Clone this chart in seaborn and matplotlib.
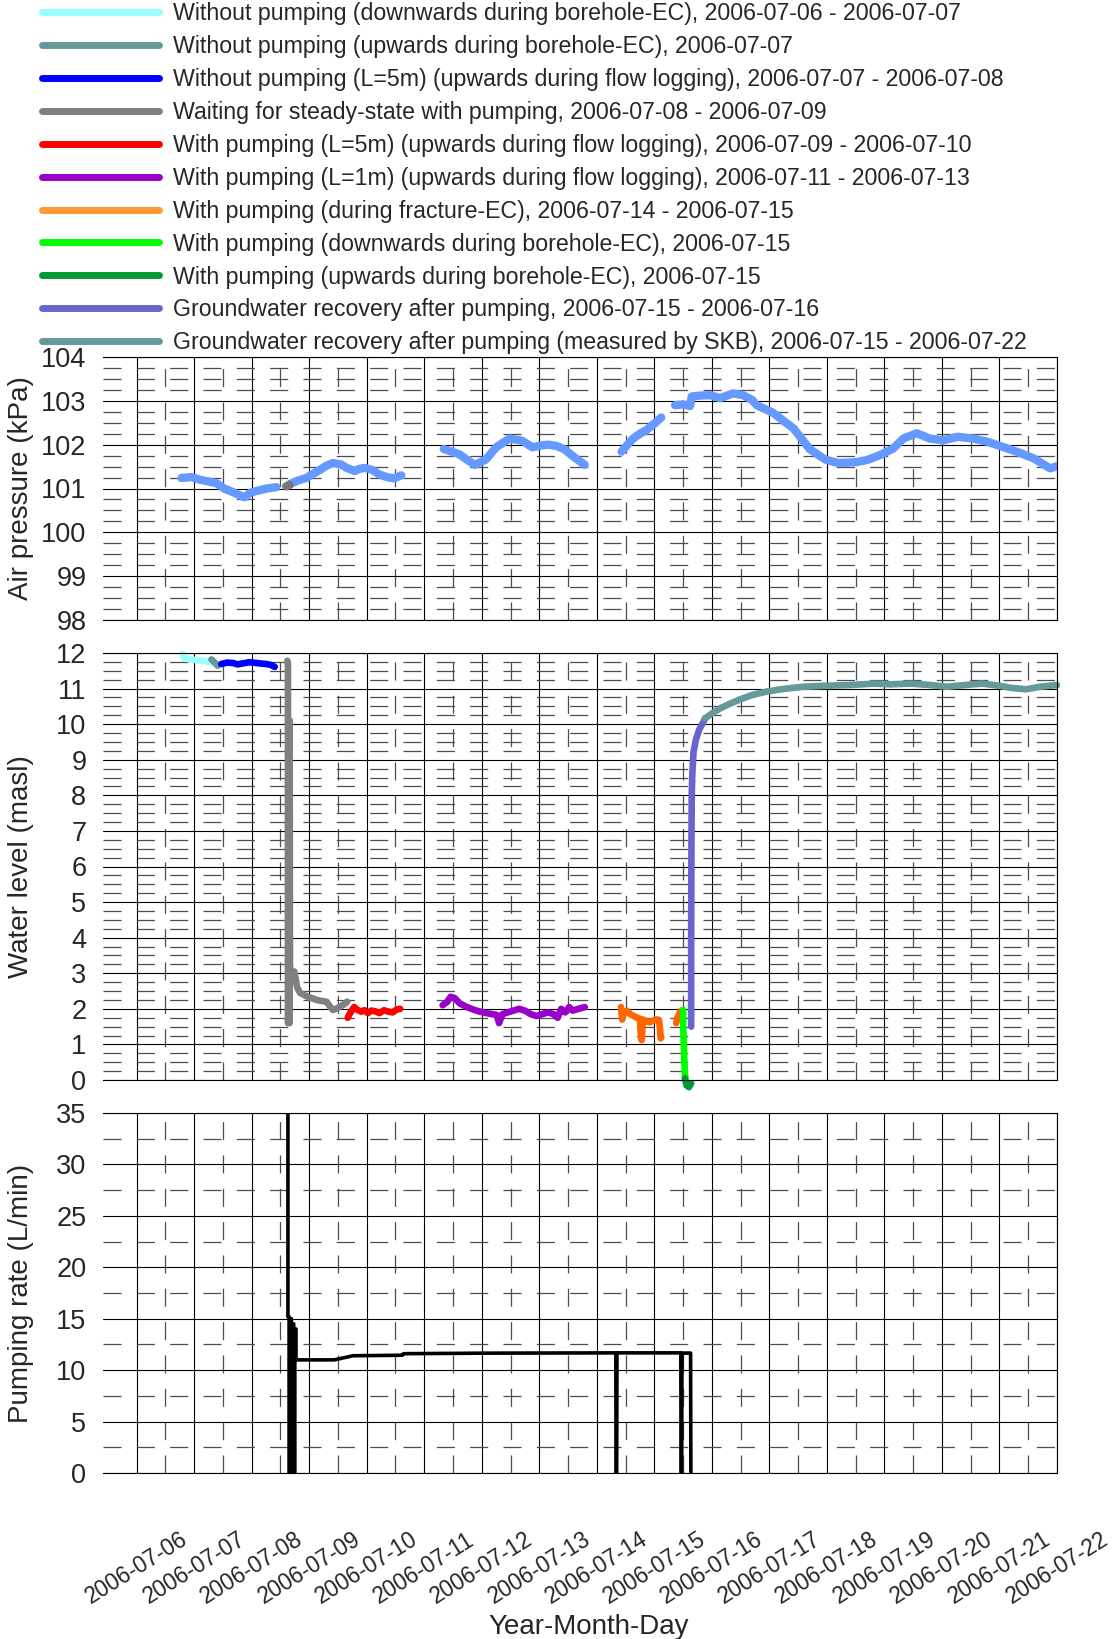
import pandas as pd
import matplotlib
matplotlib.use('Agg')
import matplotlib.pyplot as plt
import matplotlib.dates as mdates
from matplotlib.lines import Line2D
from matplotlib.ticker import MultipleLocator, FixedLocator
import seaborn as sns

# all times are days after 2006-07-06 00:00
START = pd.Timestamp('2006-07-06')

# --- air pressure (kPa) ---
air1_day = [0.78, 0.95, 1.10, 1.25, 1.39, 1.52, 1.67, 1.80, 1.88, 1.97, 2.10, 2.26, 2.43]
air1_kpa = [101.24, 101.26, 101.20, 101.16, 101.12, 101.00, 100.92, 100.84, 100.80, 100.90, 100.95, 101.00, 101.03]
air2_day = [2.66, 2.80, 2.95, 3.05, 3.18, 3.30, 3.41, 3.55, 3.65, 3.79, 3.88, 3.97, 4.10, 4.22, 4.35, 4.48, 4.60]
air2_kpa = [101.10, 101.18, 101.24, 101.32, 101.42, 101.52, 101.58, 101.55, 101.47, 101.40, 101.45, 101.47, 101.42, 101.32, 101.26, 101.23, 101.30]
air3_day = [5.34, 5.48, 5.61, 5.75, 5.88, 6.07, 6.25, 6.48, 6.70, 6.88, 7.02, 7.16, 7.30, 7.43, 7.60, 7.79]
air3_kpa = [101.90, 101.84, 101.78, 101.65, 101.54, 101.66, 101.94, 102.14, 102.09, 101.94, 101.98, 102.00, 101.97, 101.90, 101.72, 101.54]
air4_day = [8.43, 8.52, 8.63, 8.75, 8.86, 9.00, 9.12]
air4_kpa = [101.84, 101.98, 102.14, 102.25, 102.33, 102.48, 102.62]
air5_day = [9.36, 9.50, 9.62, 9.65, 9.80, 9.97, 10.14, 10.37, 10.54, 10.70, 10.78, 11.06, 11.42, 11.70, 11.97, 12.20, 12.50,
            12.70, 12.92, 13.15, 13.33, 13.56, 13.79, 14.02, 14.28, 14.54, 14.78, 15.01, 15.30, 15.59, 15.88, 16.00]
air5_kpa = [102.90, 102.92, 102.88, 103.10, 103.12, 103.13, 103.06, 103.17, 103.13, 103.02, 102.90, 102.73, 102.37, 101.90, 101.66, 101.58, 101.60,
            101.65, 101.76, 101.91, 102.14, 102.26, 102.14, 102.10, 102.18, 102.14, 102.07, 101.97, 101.84, 101.69, 101.46, 101.51]
air_wait_day = [2.60, 2.66]
air_wait_kpa = [101.05, 101.08]

# --- water level (masl) ---
cyan_day = [0.80, 0.83, 0.90, 1.05, 1.20, 1.29]
cyan_lvl = [11.97, 11.85, 11.83, 11.80, 11.77, 11.74]
teal_day = [1.30, 1.35, 1.41]
teal_lvl = [11.82, 11.74, 11.64]
blue_day = [1.47, 1.57, 1.67, 1.76, 1.85, 1.96, 2.08, 2.18, 2.26, 2.34, 2.40]
blue_lvl = [11.69, 11.73, 11.72, 11.68, 11.71, 11.74, 11.72, 11.70, 11.69, 11.66, 11.61]
gray_day = [2.62, 2.63, 2.63, 2.66, 2.66, 2.665, 2.70, 2.74, 2.79, 2.84, 2.90, 2.96, 3.05, 3.13, 3.22,
            3.30, 3.37, 3.41, 3.47, 3.53, 3.60, 3.66]
gray_lvl = [11.78, 11.70, 1.60, 1.60, 10.10, 3.20, 2.90, 3.05, 2.60, 2.45, 2.40, 2.35, 2.30, 2.25, 2.22,
            2.20, 2.05, 1.97, 2.00, 2.06, 2.12, 2.20]
red_day = [3.67, 3.70, 3.74, 3.78, 3.83, 3.90, 3.96, 4.02, 4.08, 4.15, 4.22, 4.30, 4.38, 4.45, 4.52, 4.58]
red_lvl = [1.75, 1.85, 1.95, 2.05, 1.98, 1.92, 1.96, 1.88, 1.95, 1.93, 1.88, 1.96, 1.92, 1.90, 1.98, 2.00]
purple_day = [5.32, 5.40, 5.46, 5.53, 5.62, 5.73, 5.85, 5.97, 6.08, 6.18, 6.26, 6.30, 6.36, 6.45, 6.55, 6.65, 6.75, 6.85,
              6.95, 7.05, 7.15, 7.25, 7.32, 7.38, 7.45, 7.52, 7.58, 7.68, 7.79]
purple_lvl = [2.10, 2.20, 2.34, 2.30, 2.15, 2.06, 1.98, 1.92, 1.88, 1.85, 1.83, 1.60, 1.85, 1.90, 1.95, 2.00, 1.95, 1.85,
              1.80, 1.85, 1.90, 1.85, 1.75, 2.00, 1.90, 2.05, 1.95, 2.00, 2.05]
orange1_day = [8.42, 8.44, 8.47, 8.52, 8.58, 8.64, 8.70, 8.75, 8.77, 8.78, 8.80, 8.86, 8.92, 8.97, 9.03, 9.08, 9.10, 9.11, 9.12]
orange1_lvl = [2.05, 1.70, 1.90, 1.95, 1.85, 1.80, 1.75, 1.72, 1.15, 1.12, 1.70, 1.65, 1.62, 1.66, 1.70, 1.69, 1.40, 1.17, 1.20]
orange2_day = [9.38, 9.40, 9.44, 9.47]
orange2_lvl = [1.60, 1.75, 1.88, 1.95]
lime_day = [9.50, 9.50, 9.51, 9.52, 9.53, 9.54]
lime_lvl = [1.97, 1.60, 1.10, 0.60, 0.20, 0.05]
green_day = [9.53, 9.56, 9.60, 9.64]
green_lvl = [0.05, -0.15, -0.20, -0.10]
slate_day = [9.64, 9.64, 9.645, 9.65, 9.66, 9.68, 9.72, 9.78, 9.85, 9.88]
slate_lvl = [1.50, 4.00, 6.70, 8.00, 8.60, 9.20, 9.55, 9.85, 10.05, 10.16]
skb_day = [9.88, 10.00, 10.15, 10.32, 10.50, 10.70, 10.94, 11.20, 11.57, 12.00, 12.40, 12.82, 13.10, 13.45, 13.80,
           14.08, 14.40, 14.70, 15.00, 15.20, 15.46, 15.70, 16.00]
skb_lvl = [10.16, 10.30, 10.45, 10.58, 10.70, 10.82, 10.91, 10.98, 11.05, 11.08, 11.10, 11.14, 11.12, 11.14, 11.10,
           11.05, 11.10, 11.14, 11.08, 11.02, 10.98, 11.05, 11.10]

# --- pumping rate (L/min) ---
pump_day = [2.63, 2.63, 2.65, 2.65, 2.67, 2.67, 2.69, 2.69, 2.71, 2.71, 2.73, 2.73, 2.75, 2.75, 2.77, 2.77, 2.78,
            3.44, 3.76, 4.62, 4.64, 6.00, 8.33, 8.335, 8.345, 8.35, 9.46, 9.465, 9.475, 9.48, 9.63, 9.635]
pump_rate = [35.0, 15.2, 15.2, 0.0, 0.0, 15.0, 15.0, 0.0, 0.0, 14.5, 14.5, 0.0, 0.0, 14.0, 14.0, 11.0, 11.0,
             11.0, 11.4, 11.45, 11.6, 11.65, 11.68, 0.0, 0.0, 11.68, 11.68, 0.0, 0.0, 11.66, 11.66, 0.0]

legend_labels = [
    'Without pumping (downwards during borehole-EC), 2006-07-06 - 2006-07-07',
    'Without pumping (upwards during borehole-EC), 2006-07-07',
    'Without pumping (L=5m) (upwards during flow logging), 2006-07-07 - 2006-07-08',
    'Waiting for steady-state with pumping, 2006-07-08 - 2006-07-09',
    'With pumping (L=5m) (upwards during flow logging), 2006-07-09 - 2006-07-10',
    'With pumping (L=1m) (upwards during flow logging), 2006-07-11 - 2006-07-13',
    'With pumping (during fracture-EC), 2006-07-14 - 2006-07-15',
    'With pumping (downwards during borehole-EC), 2006-07-15',
    'With pumping (upwards during borehole-EC), 2006-07-15',
    'Groundwater recovery after pumping, 2006-07-15 - 2006-07-16',
    'Groundwater recovery after pumping (measured by SKB), 2006-07-15 - 2006-07-22',
]
legend_colors = ['#99FFFF', '#669999', '#0000FF', '#808080', '#FF0000', '#9900CC',
                 '#FF9933', '#00FF00', '#009933', '#6666CC', '#669999']
series_colors = {'cyan': '#99FFFF', 'teal': '#669999', 'blue': '#0000FF', 'gray': '#808080',
                 'red': '#FF0000', 'purple': '#9900CC', 'orange': '#FF6600', 'lime': '#00FF00',
                 'green': '#009933', 'slate': '#6666CC', 'skb': '#669999'}


def to_time(days):
    return START + pd.to_timedelta(days, unit='D')


def long_frame(parts, value_name):
    rows = []
    for i, (name, days, vals) in enumerate(parts):
        for d, v in zip(days, vals):
            rows.append((to_time(d), v, name, i))
    return pd.DataFrame(rows, columns=['time', value_name, 'series', 'part'])


sns.set_style('white')
plt.rcParams['font.family'] = ['Liberation Sans', 'DejaVu Sans']
plt.rcParams['lines.scale_dashes'] = False

fig = plt.figure(figsize=(11.15, 16.39), dpi=100)
left, width = 103 / 1115, 954 / 1115
ax1 = fig.add_axes([left, 1019 / 1639, width, 263 / 1639])
ax2 = fig.add_axes([left, 559 / 1639, width, 427 / 1639])
ax3 = fig.add_axes([left, 166 / 1639, width, 360 / 1639])

# air pressure
df_air = long_frame([('air', air1_day, air1_kpa), ('air', air2_day, air2_kpa), ('air', air3_day, air3_kpa),
                     ('air', air4_day, air4_kpa), ('air', air5_day, air5_kpa)], 'kpa')
sns.lineplot(data=df_air, x='time', y='kpa', units='part', estimator=None, sort=False,
             color='#6699FF', linewidth=6.0, solid_capstyle='round', ax=ax1)
sns.lineplot(x=to_time(pd.Series(air_wait_day)), y=air_wait_kpa, estimator=None, sort=False,
             color='#777777', linewidth=6.0, solid_capstyle='round', ax=ax1)

# water level
wl_parts = [('cyan', cyan_day, cyan_lvl), ('teal', teal_day, teal_lvl), ('blue', blue_day, blue_lvl),
            ('gray', gray_day, gray_lvl), ('red', red_day, red_lvl), ('purple', purple_day, purple_lvl),
            ('orange', orange1_day, orange1_lvl), ('orange', orange2_day, orange2_lvl),
            ('lime', lime_day, lime_lvl), ('green', green_day, green_lvl),
            ('slate', slate_day, slate_lvl), ('skb', skb_day, skb_lvl)]
df_wl = long_frame(wl_parts, 'level')
sns.lineplot(data=df_wl, x='time', y='level', hue='series', units='part', estimator=None, sort=False,
             palette=series_colors, linewidth=4.8, solid_capstyle='round', legend=False, ax=ax2)
for ln in ax2.lines:
    ln.set_clip_on(False)

# pumping rate
sns.lineplot(x=to_time(pd.Series(pump_day)), y=pump_rate, estimator=None, sort=False,
             color='black', linewidth=2.6, ax=ax3)

xmin = to_time(-0.585)
xmax = to_time(16.0)
minor_x = mdates.date2num(pd.date_range('2006-07-06 12:00', periods=16, freq='D'))
panels = [(ax1, 98, 104, 1, 0.25, 'Air pressure (kPa)'),
          (ax2, 0, 12, 1, 0.25, 'Water level (masl)'),
          (ax3, 0, 35, 5, 2.5, 'Pumping rate (L/min)')]
for ax, y0, y1, ymaj, ymin_step, label in panels:
    ax.set_xlim(xmin, xmax)
    ax.set_ylim(y0, y1)
    ax.xaxis.set_major_locator(mdates.DayLocator())
    ax.xaxis.set_minor_locator(FixedLocator(minor_x))
    ax.xaxis.set_major_formatter(mdates.DateFormatter('%Y-%m-%d'))
    ax.yaxis.set_major_locator(MultipleLocator(ymaj))
    ax.yaxis.set_minor_locator(MultipleLocator(ymin_step))
    ax.grid(which='major', color='black', linewidth=0.8)
    ax.grid(which='minor', color='0.3', linewidth=0.9, linestyle=(0, (13, 11)))
    ax.set_axisbelow(True)
    ax.tick_params(axis='y', which='both', length=0, pad=12, labelsize=19.5)
    ax.set_xlabel('')
    ax.set_ylabel(label, fontsize=20)
    ax.yaxis.set_label_coords(-0.072, 0.5)
    ax.spines['left'].set_visible(False)
    for s in ['top', 'right', 'bottom']:
        ax.spines[s].set_color('black')
        ax.spines[s].set_linewidth(0.8)

for ax in (ax1, ax2):
    ax.tick_params(axis='x', which='both', length=0, labelbottom=False)

ax3.tick_params(axis='x', which='major', length=24.5, width=0.8, color='black', pad=15,
                labelsize=16.3, labelrotation=32)
ax3.tick_params(axis='x', which='minor', length=12, width=0.8, color='0.3')
ax3.set_xlabel('Year-Month-Day', fontsize=20)
ax3.xaxis.set_label_coords(0.509, -0.392)

handles = [Line2D([], [], color=c, linewidth=5) for c in legend_colors]
fig.legend(handles, legend_labels, loc='upper left', bbox_to_anchor=(42 / 1115, 0.9988),
           frameon=False, fontsize=16.65, handlelength=5.05, handletextpad=0.6,
           labelspacing=0.43, borderpad=0, borderaxespad=0)

fig.savefig('out.png', dpi=100)
